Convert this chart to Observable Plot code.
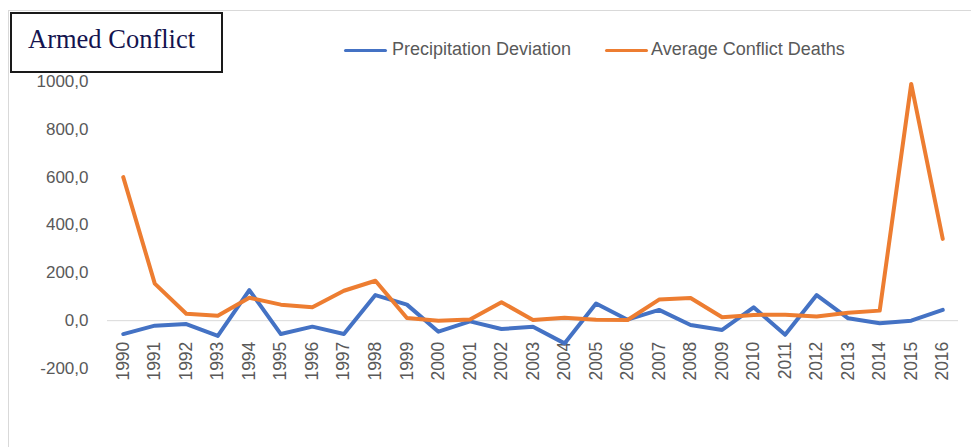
<!DOCTYPE html>
<html>
<head>
<meta charset="utf-8">
<script src="https://cdn.jsdelivr.net/npm/d3@7"></script>
<script src="https://cdn.jsdelivr.net/npm/@observablehq/plot@0.6"></script>
<style>
  html, body { margin: 0; padding: 0; background: #fff; }
  #wrap { position: relative; width: 971px; height: 447px; overflow: hidden; }
  #frame { position: absolute; left: 8px; top: 10px; width: 980px; height: 460px; border-left: 1px solid #d9d9d9; border-top: 1px solid #d9d9d9; }
  #title { position: absolute; left: 10px; top: 12px; width: 209px; height: 57px; border: 2px solid #1a1a1a; background: #fff;
           font-family: "Liberation Serif", "DejaVu Serif", serif; font-size: 26.5px; color: #14144f; }
  #title span { position: absolute; left: 16px; top: 10px; }
  #legend { position: absolute; left: 330px; top: 38px; width: 600px; height: 26px;
            font-family: "Liberation Sans", Arial, sans-serif; font-size: 18px; color: #595959; }
  .sw { position: absolute; top: 11px; width: 43px; height: 3px; border-radius: 2px; }
  .lt { position: absolute; top: 1px; white-space: nowrap; }
  #chart { position: absolute; left: 0; top: 0; }
</style>
</head>
<body>
<div id="wrap">
  <div id="frame"></div>
  <div id="chart"></div>
  <div id="title"><span>Armed Conflict</span></div>
  <div id="legend"></div>
</div>
<script>
const years = [1990,1991,1992,1993,1994,1995,1996,1997,1998,1999,2000,2001,2002,2003,2004,2005,2006,2007,2008,2009,2010,2011,2012,2013,2014,2015,2016];
const precipitationDeviation = [-56,-21,-14,-64,128,-56,-25,-56,107,67,-46,-3,-35,-25,-95,72,4,45,-18,-39,56,-59,107,10,-11,0,45];
const averageConflictDeaths = [600,155,29,21,96,67,56,125,167,11,0,5,77,3,12,4,3,88,95,14,24,25,17,33,42,990,342];
const yTicks = [-200,0,200,400,600,800,1000];
const seriesNames = ["Precipitation Deviation", "Average Conflict Deaths"];
const seriesColors = ["#4472C4", "#ED7D31"];

const precipRows = years.map((y, i) => ({year: y, value: precipitationDeviation[i]}));
const deathRows = years.map((y, i) => ({year: y, value: averageConflictDeaths[i]}));

const fmt = d => d.toFixed(1).replace(".", ",");

const chart = Plot.plot({
  width: 971,
  height: 447,
  marginLeft: 107,
  marginRight: 13,
  marginTop: 81,
  marginBottom: 79,
  style: {background: "transparent", fontFamily: "Liberation Sans, Arial, sans-serif"},
  x: {domain: [1989.5, 2016.5], axis: null},
  y: {domain: [-200, 1000], axis: null},
  marks: [
    Plot.ruleY([0], {stroke: "#d9d9d9", strokeWidth: 1}),
    Plot.axisY(yTicks, {tickFormat: fmt, tickSize: 0, tickPadding: 19, fontSize: 17, fill: "#595959", label: null}),
    Plot.text(years, {x: d => d, y: () => 0, text: d => String(d), rotate: -90, textAnchor: "end", dy: 21, fontSize: 17.5, fill: "#595959"}),
    Plot.line(precipRows, {x: "year", y: "value", stroke: seriesColors[0], strokeWidth: 4, strokeLinejoin: "round", strokeLinecap: "round"}),
    Plot.line(deathRows, {x: "year", y: "value", stroke: seriesColors[1], strokeWidth: 4, strokeLinejoin: "round", strokeLinecap: "round"})
  ]
});
document.getElementById("chart").appendChild(chart);

const legend = document.getElementById("legend");
const legendX = [[14, 62], [275, 321]];
seriesNames.forEach((name, i) => {
  const sw = document.createElement("div");
  sw.className = "sw";
  sw.style.left = legendX[i][0] + "px";
  sw.style.background = seriesColors[i];
  legend.appendChild(sw);
  const t = document.createElement("div");
  t.className = "lt";
  t.style.left = legendX[i][1] + "px";
  t.textContent = name;
  legend.appendChild(t);
});
</script>
</body>
</html>
